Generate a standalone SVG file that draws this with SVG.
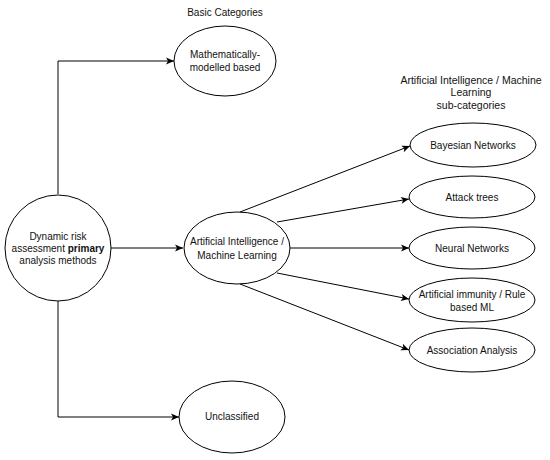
<svg xmlns="http://www.w3.org/2000/svg" width="550" height="460" viewBox="0 0 550 460">
<style>
.n{fill:#fff;stroke:#000;stroke-width:1}
.t{font-family:"Liberation Sans",Arial,sans-serif;font-size:10px;fill:#111;text-anchor:middle}
.c{fill:none;stroke:#000;stroke-width:1}
</style>
<defs>
<marker id="a" markerWidth="10" markerHeight="10" refX="9" refY="5" orient="auto" markerUnits="userSpaceOnUse">
<path d="M1,1.5 L9,5 L1,8.5 L3,5 z" fill="#000"/>
</marker>
</defs>
<rect width="550" height="460" fill="#fff"/>
<text class="t" x="225" y="16">Basic Categories</text>
<text class="t" x="471" y="84" style="font-size:10.5px">Artificial Intelligence / Machine</text>
<text class="t" x="471" y="96" style="font-size:10.5px">Learning</text>
<text class="t" x="471" y="109" style="font-size:10.5px">sub-categories</text>
<g id="connectors">
<path class="c" d="M58,194 V61 H174" marker-end="url(#a)"/>
<path class="c" d="M58,300 V417 H179" marker-end="url(#a)"/>
<path class="c" d="M111,248 H183" marker-end="url(#a)"/>
<path class="c" d="M240,212 L410,146" marker-end="url(#a)"/>
<path class="c" d="M277,222 L409,199" marker-end="url(#a)"/>
<path class="c" d="M290,248 L409,248" marker-end="url(#a)"/>
<path class="c" d="M277,273 L409,299" marker-end="url(#a)"/>
<path class="c" d="M240,284 L409,350" marker-end="url(#a)"/>
</g>
<g id="root">
<circle class="n" cx="58" cy="248" r="53"/>
<text class="t" x="58" y="240">Dynamic risk</text>
<text class="t" x="58" y="252">assessment <tspan font-weight="bold">primary</tspan></text>
<text class="t" x="58" y="264">analysis methods</text>
</g>
<g id="math">
<ellipse class="n" cx="225" cy="61" rx="51" ry="35"/>
<text class="t" x="225" y="58">Mathematically-</text>
<text class="t" x="225" y="71">modelled based</text>
</g>
<g id="ai">
<ellipse class="n" cx="237" cy="248" rx="53" ry="36"/>
<text class="t" x="237" y="245">Artificial Intelligence /</text>
<text class="t" x="237" y="259">Machine Learning</text>
</g>
<g id="unclassified">
<ellipse class="n" cx="232" cy="417" rx="53" ry="36"/>
<text class="t" x="232" y="420">Unclassified</text>
</g>
<g id="bayesian">
<ellipse class="n" cx="473" cy="145" rx="63" ry="22"/>
<text class="t" x="473" y="149">Bayesian Networks</text>
</g>
<g id="attack">
<ellipse class="n" cx="472" cy="197" rx="63" ry="21"/>
<text class="t" x="472" y="201">Attack trees</text>
</g>
<g id="neural">
<ellipse class="n" cx="472" cy="248" rx="63" ry="21"/>
<text class="t" x="472" y="252">Neural Networks</text>
</g>
<g id="immunity">
<ellipse class="n" cx="472" cy="300" rx="63" ry="22"/>
<text class="t" x="472" y="298">Artificial immunity / Rule</text>
<text class="t" x="472" y="311">based ML</text>
</g>
<g id="association">
<ellipse class="n" cx="472" cy="350" rx="63" ry="22"/>
<text class="t" x="472" y="354">Association Analysis</text>
</g>
</svg>
